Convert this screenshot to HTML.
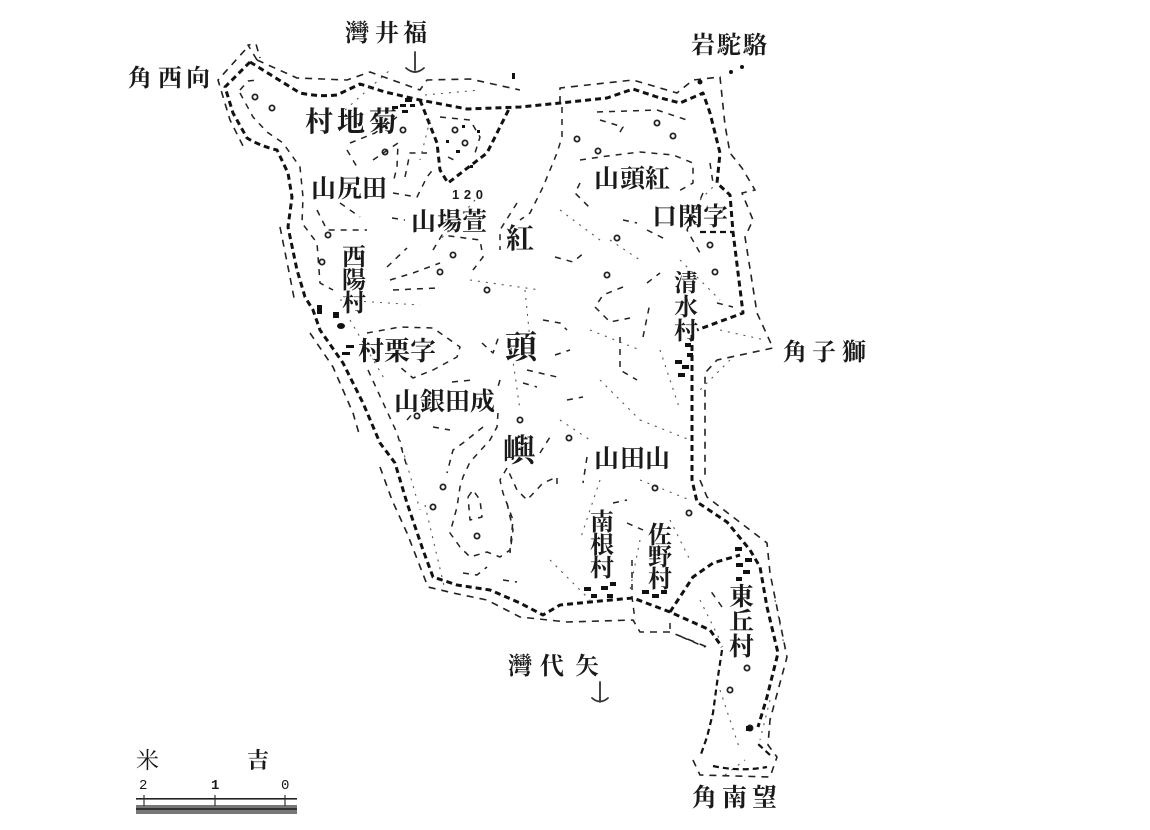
<!DOCTYPE html>
<html>
<head>
<meta charset="utf-8">
<style>
html,body{margin:0;padding:0;background:#fff;width:1150px;height:830px;overflow:hidden}
svg{display:block}
text{font-family:"Liberation Serif","Noto Serif CJK JP","Noto Sans CJK JP",serif;fill:#1a1a1a;font-weight:700}
.sans{font-family:"Liberation Sans","Noto Sans CJK TC",sans-serif;font-weight:700}
.m{fill:none;stroke:#111;stroke-width:3;stroke-dasharray:6 4;stroke-linejoin:round}
.o{fill:none;stroke:#222;stroke-width:1.6;stroke-dasharray:7 6;stroke-linejoin:round}
.c{fill:none;stroke:#222;stroke-width:1.5;stroke-dasharray:6 6;stroke-linejoin:round}
.f{fill:none;stroke:#555;stroke-width:1.1;stroke-dasharray:2 6}
.b{fill:none;stroke:#333;stroke-width:1.8;stroke-linecap:round}
.p{fill:none;stroke:#222;stroke-width:1.8}
</style>
</head>
<body>
<svg width="1150" height="830" viewBox="0 0 1150 830" xmlns="http://www.w3.org/2000/svg">
<rect width="1150" height="830" fill="#fff"/>

<!-- main boundary -->
<path class="m" d="M250 62L225 87L233 113L247 138Q260 146 277 150L288 173L292 197L288 227L297 270L305 297L313 310L320 330L343 363L363 403L380 443L395 463L407 503L423 550L433 577L457 585L490 590L520 603L543 615L560 605L600 601L633 598L670 612L710 630L722 647"/>
<path class="m" d="M250 62L300 93Q320 97 337 95L360 84L385 92L420 100L467 109L520 107L560 103L607 98L633 89L657 97L680 103L703 93L710 113L720 153L717 183L730 195L733 232L743 313L697 330"/>
<path class="m" d="M692 335L692 480L697 502L727 522L750 550L760 567L767 607L778 653L767 697L758 727" stroke-dasharray="5 4"/>
<path class="m" style="stroke-width:2.2" d="M722 650L717 683L713 713L707 737L700 757M713 766Q740 772 767 767M770 755L757 743"/>
<path class="m" d="M420 100L437 143L440 170L448 183L487 153L500 127L510 107"/>
<path class="m" d="M670 612L693 577L713 563L740 555"/>
<path class="m" style="stroke-width:2.2" d="M700 232L732 232"/>

<!-- outer boundary -->
<path class="o" d="M257 60L248 45L256 44L260 58M245 50L218 80L230 120L245 150"/>
<path class="o" d="M257 60L297 78L347 80L370 72L420 90L427 80L470 79L520 90"/>
<path class="o" d="M560 103L560 88L633 80L677 93L693 80L720 77L725 125L730 153L742 168L755 190L742 193L753 220L745 237L757 313L773 348L717 360L705 373L705 480"/>
<path class="o" d="M280 227L290 277L295 303M310 333L333 367L353 413L360 437M380 467L392 500L407 533L428 587L453 593L487 600L520 617L567 622L633 620L640 632L670 632L707 647"/>
<path class="o" d="M700 480L707 497L733 517L767 543L770 573L787 657L770 720L768 745L777 757L770 777L700 775L692 758"/>

<!-- contours -->
<path class="c" d="M240 90L248 81L257 80M240 93L253 117L267 132L283 143L300 167L303 197L302 223L317 243L320 283L333 290"/>
<path class="c" d="M350 143L375 133L397 117M347 150L357 167M373 160L398 143L397 167L393 183M393 193L417 197L427 177L435 167M405 177L410 153L427 153"/>
<path class="c" d="M317 210L327 230L367 230M340 203L360 217M392 218L405 220M387 267L407 248M433 250L442 235L480 240L483 257L473 270M390 280L413 273L440 263M393 290L437 288"/>
<path class="c" d="M517 203L500 230L500 250M440 117L470 120L480 137L475 153M448 157L458 162"/>
<path class="c" d="M562 107L562 137L557 153L543 187L530 213L520 220"/>
<path class="c" d="M597 112L657 110L687 120M580 160L600 157L640 152L673 155L693 163L693 183L677 192M600 120L623 127L617 137M580 183L575 193L590 208"/>
<path class="c" d="M647 230L667 240M623 220L637 223M555 257L573 262L585 252M623 287L603 295L595 307L610 322L630 318M647 283L660 273M643 337L650 303M620 337L620 370L637 380M717 303L733 307M710 163L713 183M703 193L687 230L700 253"/>
<path class="c" d="M368 370L397 433L407 467M367 333L400 327L433 328L460 347L457 357L433 370L413 378L400 367"/>
<path class="c" d="M452 382L473 380M500 380L497 390M498 413L497 427L490 440L470 462L463 477L460 487L457 507L450 533L460 547L470 557L487 552L500 557L510 550L513 520L503 493L500 480L507 468L517 490L527 500L543 483L557 477L557 487"/>
<path class="c" d="M483 427L463 443L453 450L447 473M407 420L413 413M433 427L450 430M468 497L473 490L480 500L482 517L470 520L468 497"/>
<path class="c" d="M463 573L477 575L487 567M503 580L517 582M523 383L537 387M555 355L570 350M482 343L493 353L500 333M543 320L560 323L567 330M540 453L550 437M567 400L583 397M587 457L583 483M527 370L557 377"/>
<path class="c" d="M507 503L513 530L510 553M632 560L632 597L635 620M613 503L627 500M627 523L643 530M670 623L670 632M682 637L705 647M722 607L710 590"/>

<!-- faint specks -->
<path class="f" d="M345 110L390 70M425 95L480 90M430 120L420 160M475 200L440 240M340 300L420 305M350 320L385 380M400 440L420 510M425 505L445 590M470 280L540 290M525 290L530 340M510 340L520 410M560 210L600 240M610 240L640 260M590 330L640 350M600 380L640 420M660 350L680 410M640 420L690 440M560 420L590 440M600 480L580 540M550 560L590 600M640 480L690 500M700 200L720 180M680 260L720 300M720 330L765 340M730 360L700 390M700 600L720 640M775 600L785 650M770 700L760 740M720 690L740 750M725 775L745 760M640 540L630 590M670 520L690 560"/>

<!-- elevation points -->
<g class="p">
<circle cx="255" cy="97" r="2.6"/><circle cx="272" cy="108" r="2.6"/><circle cx="403" cy="130" r="2.6"/><circle cx="385" cy="152" r="2.6"/><circle cx="455" cy="130" r="2.6"/><circle cx="465" cy="143" r="2.6"/><circle cx="328" cy="235" r="2.6"/><circle cx="322" cy="262" r="2.6"/><circle cx="453" cy="255" r="2.6"/><circle cx="440" cy="272" r="2.6"/><circle cx="487" cy="290" r="2.6"/>
<circle cx="657" cy="123" r="2.6"/><circle cx="673" cy="136" r="2.6"/><circle cx="577" cy="139" r="2.6"/><circle cx="598" cy="151" r="2.6"/><circle cx="617" cy="238" r="2.6"/><circle cx="607" cy="275" r="2.6"/><circle cx="710" cy="245" r="2.6"/><circle cx="715" cy="272" r="2.6"/>
<circle cx="417" cy="416" r="2.6"/><circle cx="520" cy="420" r="2.6"/><circle cx="569" cy="438" r="2.6"/><circle cx="443" cy="487" r="2.6"/><circle cx="433" cy="507" r="2.6"/><circle cx="477" cy="536" r="2.6"/>
<circle cx="689" cy="513" r="2.6"/><circle cx="655" cy="488" r="2.6"/><circle cx="747" cy="668" r="2.6"/><circle cx="730" cy="690" r="2.6"/><circle cx="750" cy="728" r="2.6"/>
</g>

<!-- dots and village marks -->
<g fill="#111">
<circle cx="731" cy="72" r="2"/><circle cx="742" cy="67" r="2"/><circle cx="700" cy="82" r="2.5"/>
<rect x="512" y="73" width="3" height="6"/>
<rect x="405" y="98" width="7" height="4"/><rect x="400" y="104" width="6" height="3"/><rect x="392" y="106" width="6" height="3"/><rect x="402" y="110" width="6" height="3"/><rect x="410" y="104" width="5" height="3"/>
<ellipse cx="341" cy="326" rx="4" ry="3"/><rect x="333" y="312" width="6" height="6"/><rect x="317" y="305" width="5" height="9"/><rect x="346" y="345" width="8" height="3"/><rect x="342" y="352" width="8" height="3"/>
<rect x="685" y="343" width="6" height="4"/><rect x="687" y="353" width="6" height="4"/><rect x="675" y="360" width="7" height="4"/><rect x="682" y="365" width="7" height="4"/><rect x="678" y="373" width="7" height="4"/>
<rect x="584" y="587" width="7" height="4"/><rect x="601" y="586" width="7" height="4"/><rect x="610" y="582" width="6" height="4"/><rect x="591" y="594" width="6" height="4"/><rect x="607" y="594" width="6" height="4"/>
<rect x="642" y="590" width="7" height="4"/><rect x="652" y="594" width="7" height="4"/><rect x="661" y="590" width="6" height="4"/>
<rect x="735" y="547" width="7" height="4"/><rect x="745" y="558" width="7" height="4"/><rect x="736" y="563" width="7" height="4"/><rect x="743" y="570" width="7" height="4"/><rect x="736" y="577" width="6" height="4"/>
<rect x="746" y="726" width="6" height="5"/>
<rect x="462" y="125" width="3" height="3"/><rect x="456" y="150" width="4" height="3"/><rect x="470" y="165" width="3" height="3"/><rect x="477" y="130" width="3" height="3"/><rect x="446" y="140" width="3" height="3"/>
</g>

<!-- anchors -->
<path class="b" d="M415 52V70M406 68Q415 76 424 68"/>
<path class="b" d="M600 682V702M592 698Q600 705 608 698"/>

<!-- labels -->
<text x="128 158 186" y="86" font-size="24">角西向</text>
<text x="345 375 403" y="41" font-size="24">灣井福</text>
<text x="691 717 743" y="53" font-size="24">岩駝駱</text>
<text x="305 337 369" y="131" font-size="28">村地菊</text>
<text x="311 337 362" y="197" font-size="25">山尻田</text>
<text x="411 437 462" y="230" font-size="25">山場萱</text>
<text x="506" y="248" font-size="28">紅</text>
<text x="505" y="358" font-size="32">頭</text>
<text x="503" y="461" font-size="32">嶼</text>
<text x="594 620 645" y="187" font-size="25">山頭紅</text>
<text x="652 678 703" y="225" font-size="25">口閑字</text>
<text x="674" y="291" font-size="24">清</text>
<text x="674" y="315" font-size="24">水</text>
<text x="674" y="339" font-size="24">村</text>
<text x="342" y="265" font-size="24">西</text>
<text x="342" y="288" font-size="24">陽</text>
<text x="342" y="311" font-size="24">村</text>
<text x="358 384 410" y="360" font-size="26">村栗字</text>
<text x="394 420 445 470" y="410" font-size="25">山銀田成</text>
<text x="594 620 645" y="467" font-size="25">山田山</text>
<text x="590" y="530" font-size="24">南</text>
<text x="590" y="553" font-size="24">根</text>
<text x="590" y="576" font-size="24">村</text>
<text x="648" y="543" font-size="24">佐</text>
<text x="648" y="565" font-size="24">野</text>
<text x="648" y="587" font-size="24">村</text>
<text x="729" y="605" font-size="25">東</text>
<text x="729" y="630" font-size="25">丘</text>
<text x="729" y="655" font-size="25">村</text>
<text x="508 540 575" y="674" font-size="24">灣代矢</text>
<text x="783 812 842" y="360" font-size="24">角子獅</text>
<text x="692 722 752" y="806" font-size="25">角南望</text>
<text x="136" y="768" font-size="23" style="font-weight:400">米</text>
<text x="247" y="768" font-size="22">吉</text>
<text x="452" y="199" font-size="13" class="sans" textLength="31">120</text>

<!-- scale -->
<text x="139" y="789" font-size="14" style="font-family:'Liberation Mono',monospace;font-weight:400">2</text>
<text x="211" y="789" font-size="14" style="font-family:'Liberation Mono',monospace;font-weight:700">1</text>
<text x="281" y="789" font-size="14" style="font-family:'Liberation Mono',monospace;font-weight:400">0</text>
<rect x="136" y="798" width="161" height="1.6" fill="#222"/>
<rect x="136" y="805" width="161" height="9" fill="#777"/>
<rect x="136" y="808" width="161" height="2" fill="#333"/>
<path stroke="#333" stroke-width="1.2" d="M144 795V806M215 795V806M285 795V806"/>
</svg>
</body>
</html>
